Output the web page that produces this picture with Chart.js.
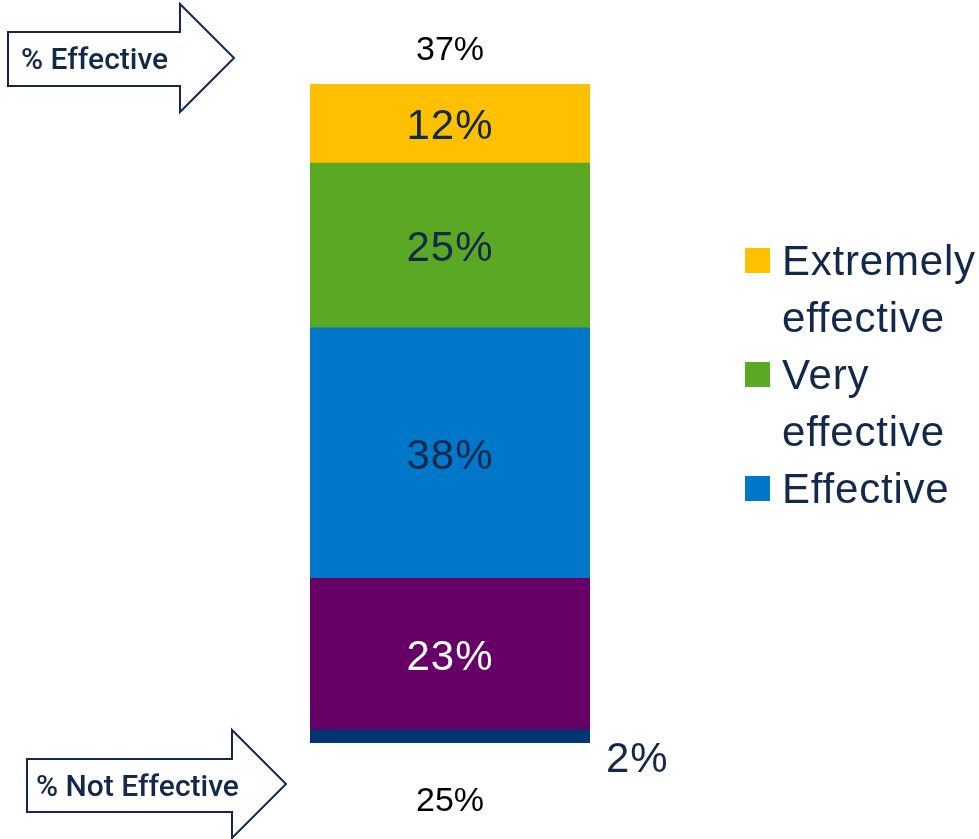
<!DOCTYPE html>
<html>
<head>
<meta charset="utf-8">
<title>Effectiveness</title>
<script src="https://cdn.jsdelivr.net/npm/chart.js@4/dist/chart.umd.min.js"></script>
<style>
    html, body { margin: 0; padding: 0; background: #fff; }
    #wrap { width: 979px; height: 839px; }
</style>
</head>
<body>
<div id="wrap"><canvas id="effChart" width="979" height="839"></canvas></div>
<script>
// Stacked from the bottom up
const categories = ['All respondents'];
const seriesNames = ['Not at all effective', 'Somewhat effective', 'Effective', 'Very effective', 'Extremely effective'];
const seriesValues = [2, 23, 38, 25, 12];
const seriesColors = ['#003473', '#660066', '#0077C8', '#5BA825', '#FFC000'];
const labelColors = ['#13294B', '#ffffff', '#13294B', '#13294B', '#13294B'];
const legendNames = [['Extremely', 'effective'], ['Very', 'effective'], ['Effective']];

const FONT = '"Liberation Sans", Arial, sans-serif';
const NAVY = '#13294B';

// Roll-ups shown next to the arrows
const effectiveTotal = seriesValues[3] + seriesValues[4];
const notEffectiveTotal = seriesValues[0] + seriesValues[1];

function drawArrow(ctx, x0, bodyTop, bodyBottom, headX, headTop, headBottom, tipX) {
    const midY = (headTop + headBottom) / 2;
    ctx.beginPath();
    ctx.moveTo(x0, bodyTop);
    ctx.lineTo(headX, bodyTop);
    ctx.lineTo(headX, headTop);
    ctx.lineTo(tipX, midY);
    ctx.lineTo(headX, headBottom);
    ctx.lineTo(headX, bodyBottom);
    ctx.lineTo(x0, bodyBottom);
    ctx.closePath();
    ctx.fillStyle = '#fff';
    ctx.fill();
    ctx.lineWidth = 2;
    ctx.strokeStyle = NAVY;
    ctx.stroke();
}

const decorPlugin = {
    id: 'decor',
    afterDatasetsDraw(chart) {
        const ctx = chart.ctx;
        ctx.save();
        ctx.textBaseline = 'middle';

        // segment labels
        const n = chart.data.datasets.length;
        let topBar = null, bottomBar = null;
        ctx.letterSpacing = '1px';
        chart.data.datasets.forEach((ds, i) => {
            const bar = chart.getDatasetMeta(i).data[0];
            if (i === n - 1) topBar = bar;
            if (i === 0) bottomBar = bar;
            ctx.font = '42px ' + FONT;
            ctx.fillStyle = labelColors[i];
            const txt = ds.data[0] + '%';
            if (ds.data[0] < 5) {
                ctx.textAlign = 'left';
                ctx.fillText(txt, bar.x + bar.width / 2 + 16, bar.base + 17);
            } else {
                ctx.textAlign = 'center';
                ctx.fillText(txt, bar.x, (bar.y + bar.base) / 2 + 4);
            }
        });

        // totals above / below the bar
        ctx.letterSpacing = '0px';
        ctx.font = '34px ' + FONT;
        ctx.fillStyle = '#000';
        ctx.textAlign = 'center';
        ctx.fillText(effectiveTotal + '%', topBar.x, topBar.y - 33);
        ctx.fillText(notEffectiveTotal + '%', bottomBar.x, bottomBar.base + 59);

        // arrows
        drawArrow(ctx, 8, 32, 86, 180, 4, 112, 234);
        drawArrow(ctx, 27, 759, 812, 232, 730, 838, 286);
        ctx.font = '500 30px Roboto, ' + FONT;
        ctx.fillStyle = NAVY;
        ctx.textAlign = 'left';
        ctx.fillText('% Effective', 21, 61);
        ctx.fillText('% Not Effective', 36, 788);

        // legend (top three series only)
        const boxX = 745, textX = 782, lineH = 57;
        let y = 261;
        ctx.letterSpacing = '0.8px';
        legendNames.forEach((lines, k) => {
            const idx = n - 1 - k;
            ctx.fillStyle = seriesColors[idx];
            ctx.fillRect(boxX, y - 13, 25, 25);
            ctx.font = '42px ' + FONT;
            ctx.fillStyle = NAVY;
            lines.forEach((ln, j) => {
                ctx.fillText(ln, textX, y + j * lineH + 2);
            });
            y += lines.length * lineH;
        });

        ctx.restore();
    }
};

new Chart(document.getElementById('effChart'), {
    type: 'bar',
    data: {
        labels: categories,
        datasets: seriesNames.map((name, i) => ({
            label: name,
            data: [seriesValues[i]],
            backgroundColor: seriesColors[i],
            borderWidth: 0,
            barPercentage: 1,
            categoryPercentage: 1
        }))
    },
    options: {
        responsive: false,
        animation: false,
        layout: { padding: { left: 310, right: 389, top: 84, bottom: 96 } },
        plugins: {
            legend: { display: false },
            tooltip: { enabled: false }
        },
        scales: {
            x: { stacked: true, display: false },
            y: { stacked: true, display: false, min: 0, max: 100 }
        }
    },
    plugins: [decorPlugin]
});
</script>
</body>
</html>
